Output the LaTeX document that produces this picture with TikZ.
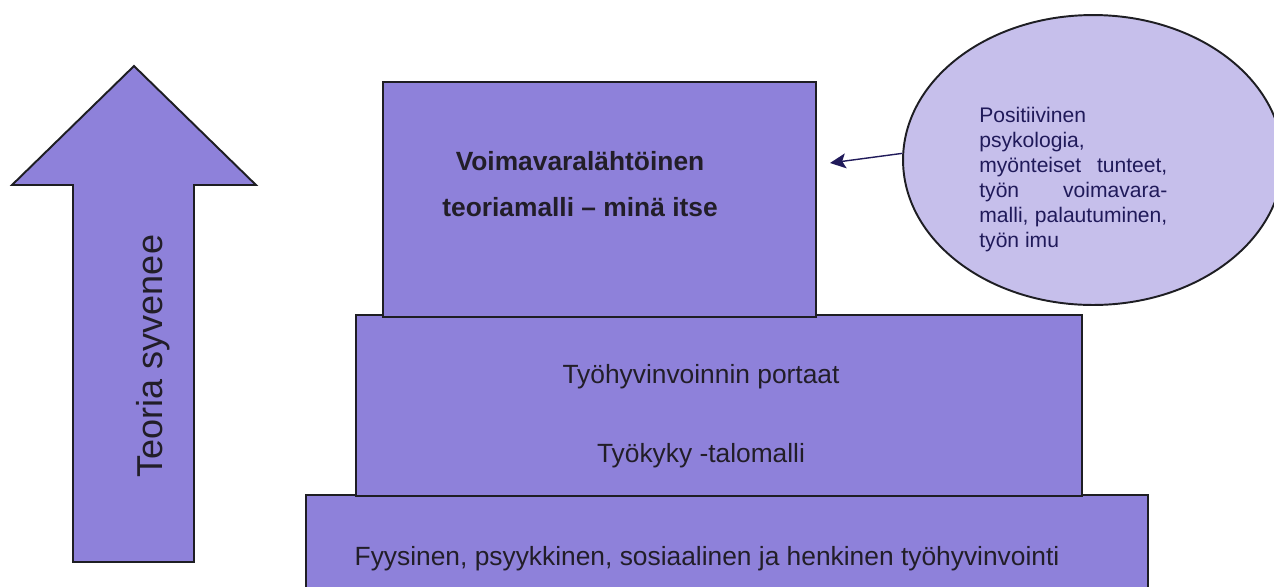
\documentclass[tikz,border=0pt]{standalone}
\usepackage{fontspec}
\setmainfont{Liberation Sans}
\usepackage{tikz}
\usetikzlibrary{shapes,arrows.meta,positioning}

\definecolor{porrasfill}{RGB}{142,129,218}
\definecolor{kuplafill}{RGB}{198,191,235}
\definecolor{reuna}{RGB}{30,30,35}
\definecolor{tummateksti}{RGB}{34,30,40}
\definecolor{laivasto}{RGB}{32,26,90}

\tikzset{
    porras/.style={draw=reuna, fill=porrasfill, line width=1.1pt, inner sep=0pt},
    teksti/.style={text=tummateksti, font=\fontsize{15}{18}\selectfont, inner sep=0pt, anchor=base},
}

\begin{document}
\begin{tikzpicture}[x=0.02cm, y=-0.02cm]
    \useasboundingbox (0,0) rectangle (1274,586);
    \clip (0,0) rectangle (1274,586);

    % Arrow on the left
    \draw[porras] (134,66) -- (256,185) -- (194,185) -- (194,562) -- (73,562) -- (73,185) -- (12,185) -- cycle;
    \node[teksti, font=\fontsize{20.5}{24}\selectfont, rotate=90] (syvenee) at (162,356) {Teoria syvenee};

    % Steps
    \node[porras, minimum width=16.84cm, minimum height=2.5cm] (pohja) at (727,557.5) {};
    \node[porras, minimum width=14.52cm, minimum height=3.62cm] (keski) at (719,405.5) {};
    \node[porras, minimum width=8.66cm, minimum height=4.7cm] (huippu) at (599.5,199.5) {};

    \node[teksti] (perusta) at (707,565) {Fyysinen, psyykkinen, sosiaalinen ja henkinen työhyvinvointi};
    \node[teksti] (talo) at (701,462) {Työkyky -talomalli};
    \node[teksti] (portaat) at (701,383) {Työhyvinvoinnin portaat};
    \node[teksti, font=\bfseries\fontsize{15}{18}\selectfont] (voima1) at (580,170) {Voimavaralähtöinen};
    \node[teksti, font=\bfseries\fontsize{15}{18}\selectfont] (voima2) at (580,216) {teoriamalli – minä itse};

    % Bubble
    \node[ellipse, draw=reuna, fill=kuplafill, line width=1.1pt, minimum width=7.6cm, minimum height=5.8cm, inner sep=0pt] (kupla) at (1093,160) {};
    \node[text=laivasto, font=\fontsize{12}{14.2}\selectfont, text width=107pt, align=justify, anchor=north west, inner sep=0pt] (imu) at (979,107)
        {Positiivinen\linebreak psykologia,\linebreak myönteiset tunteet,\linebreak työn voimavara-\linebreak malli, palautuminen,\linebreak työn imu};

    \coordinate (karki) at (830,163);
    \draw[-{Stealth[length=9pt, width=8.5pt, inset=2pt]}, draw=laivasto, fill=laivasto, line width=0.8pt] (kupla.178) -- (karki);
\end{tikzpicture}
\end{document}
